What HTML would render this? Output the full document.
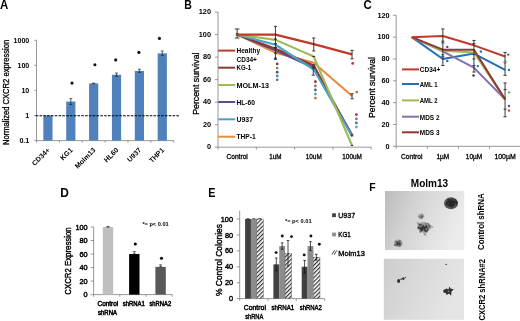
<!DOCTYPE html>
<html><head><meta charset="utf-8"><style>
html,body{margin:0;padding:0;background:#fff;}
svg{display:block;filter:blur(0.3px);}
text{font-family:"Liberation Sans", sans-serif;}
</style></head><body>
<svg width="520" height="321" viewBox="0 0 520 321" font-family='"Liberation Sans", sans-serif'>
<rect width="520" height="321" fill="#fff"/>
<text x="0.00" y="8.60" font-size="12" font-weight="bold" text-anchor="start" fill="#000" textLength="8.3" lengthAdjust="spacingAndGlyphs" >A</text>
<line x1="36.50" y1="40.30" x2="36.50" y2="140.60" stroke="#7f7f7f" stroke-width="0.8" />
<line x1="34.30" y1="40.30" x2="36.50" y2="40.30" stroke="#7f7f7f" stroke-width="0.8" />
<line x1="34.30" y1="65.30" x2="36.50" y2="65.30" stroke="#7f7f7f" stroke-width="0.8" />
<line x1="34.30" y1="90.40" x2="36.50" y2="90.40" stroke="#7f7f7f" stroke-width="0.8" />
<line x1="34.30" y1="115.50" x2="36.50" y2="115.50" stroke="#7f7f7f" stroke-width="0.8" />
<line x1="34.30" y1="140.60" x2="36.50" y2="140.60" stroke="#7f7f7f" stroke-width="0.8" />
<text x="29.30" y="42.60" font-size="7.1" font-weight="bold" text-anchor="end" fill="#000" >1000</text>
<text x="29.30" y="67.60" font-size="7.1" font-weight="bold" text-anchor="end" fill="#000" >100</text>
<text x="29.30" y="92.70" font-size="7.1" font-weight="bold" text-anchor="end" fill="#000" >10</text>
<text x="29.30" y="117.80" font-size="7.1" font-weight="bold" text-anchor="end" fill="#000" >1</text>
<text x="29.30" y="142.90" font-size="7.1" font-weight="bold" text-anchor="end" fill="#000" >0.1</text>
<text x="9.20" y="92.40" font-size="8.2" font-weight="normal" text-anchor="middle" fill="#000" stroke="#000" stroke-width="0.3" textLength="105.2" lengthAdjust="spacingAndGlyphs" transform="rotate(-90 9.20 92.40)" >Normalized CXCR2 expression</text>
<line x1="36.50" y1="140.60" x2="173.70" y2="140.60" stroke="#7f7f7f" stroke-width="0.8" />
<line x1="36.50" y1="140.60" x2="36.50" y2="142.60" stroke="#7f7f7f" stroke-width="0.8" />
<line x1="59.37" y1="140.60" x2="59.37" y2="142.60" stroke="#7f7f7f" stroke-width="0.8" />
<line x1="82.23" y1="140.60" x2="82.23" y2="142.60" stroke="#7f7f7f" stroke-width="0.8" />
<line x1="105.10" y1="140.60" x2="105.10" y2="142.60" stroke="#7f7f7f" stroke-width="0.8" />
<line x1="127.97" y1="140.60" x2="127.97" y2="142.60" stroke="#7f7f7f" stroke-width="0.8" />
<line x1="150.83" y1="140.60" x2="150.83" y2="142.60" stroke="#7f7f7f" stroke-width="0.8" />
<line x1="173.70" y1="140.60" x2="173.70" y2="142.60" stroke="#7f7f7f" stroke-width="0.8" />
<rect x="43.33" y="115.50" width="9.20" height="25.10" fill="#4F81BD" />
<rect x="66.20" y="101.54" width="9.20" height="39.06" fill="#4F81BD" />
<line x1="70.80" y1="98.63" x2="70.80" y2="104.59" stroke="#222" stroke-width="0.7" />
<line x1="69.30" y1="98.63" x2="72.30" y2="98.63" stroke="#222" stroke-width="0.7" />
<line x1="69.30" y1="104.59" x2="72.30" y2="104.59" stroke="#222" stroke-width="0.7" />
<rect x="89.07" y="83.40" width="9.20" height="57.20" fill="#4F81BD" />
<line x1="93.67" y1="83.12" x2="93.67" y2="83.64" stroke="#222" stroke-width="0.7" />
<line x1="92.17" y1="83.12" x2="95.17" y2="83.12" stroke="#222" stroke-width="0.7" />
<line x1="92.17" y1="83.64" x2="95.17" y2="83.64" stroke="#222" stroke-width="0.7" />
<rect x="111.93" y="74.76" width="9.20" height="65.84" fill="#4F81BD" />
<line x1="116.53" y1="73.08" x2="116.53" y2="76.32" stroke="#222" stroke-width="0.7" />
<line x1="115.03" y1="73.08" x2="118.03" y2="73.08" stroke="#222" stroke-width="0.7" />
<line x1="115.03" y1="76.32" x2="118.03" y2="76.32" stroke="#222" stroke-width="0.7" />
<rect x="134.80" y="70.87" width="9.20" height="69.73" fill="#4F81BD" />
<line x1="139.40" y1="69.19" x2="139.40" y2="72.43" stroke="#222" stroke-width="0.7" />
<line x1="137.90" y1="69.19" x2="140.90" y2="69.19" stroke="#222" stroke-width="0.7" />
<line x1="137.90" y1="72.43" x2="140.90" y2="72.43" stroke="#222" stroke-width="0.7" />
<rect x="157.67" y="53.32" width="9.20" height="87.28" fill="#4F81BD" />
<line x1="162.27" y1="51.04" x2="162.27" y2="55.58" stroke="#222" stroke-width="0.7" />
<line x1="160.77" y1="51.04" x2="163.77" y2="51.04" stroke="#222" stroke-width="0.7" />
<line x1="160.77" y1="55.58" x2="163.77" y2="55.58" stroke="#222" stroke-width="0.7" />
<circle cx="72.00" cy="83.10" r="1.55" fill="#111"/>
<circle cx="94.90" cy="64.80" r="1.55" fill="#111"/>
<circle cx="115.70" cy="59.90" r="1.55" fill="#111"/>
<circle cx="138.90" cy="52.40" r="1.55" fill="#111"/>
<circle cx="159.40" cy="38.40" r="1.55" fill="#111"/>
<line x1="35.70" y1="115.80" x2="179.30" y2="115.80" stroke="#000" stroke-width="1.1" stroke-dasharray="2.6 1.2"/>
<text x="50.33" y="150.60" font-size="7.0" font-weight="bold" text-anchor="end" fill="#000" transform="rotate(-45 50.33 150.60)" >CD34+</text>
<text x="73.20" y="150.60" font-size="7.0" font-weight="bold" text-anchor="end" fill="#000" transform="rotate(-45 73.20 150.60)" >KG1</text>
<text x="96.07" y="150.60" font-size="7.0" font-weight="bold" text-anchor="end" fill="#000" transform="rotate(-45 96.07 150.60)" >Molm13</text>
<text x="118.93" y="150.60" font-size="7.0" font-weight="bold" text-anchor="end" fill="#000" transform="rotate(-45 118.93 150.60)" >HL60</text>
<text x="141.80" y="150.60" font-size="7.0" font-weight="bold" text-anchor="end" fill="#000" transform="rotate(-45 141.80 150.60)" >U937</text>
<text x="164.67" y="150.60" font-size="7.0" font-weight="bold" text-anchor="end" fill="#000" transform="rotate(-45 164.67 150.60)" >THP1</text>
<text x="184.30" y="8.60" font-size="12" font-weight="bold" text-anchor="start" fill="#000" textLength="7.6" lengthAdjust="spacingAndGlyphs" >B</text>
<line x1="218.00" y1="12.10" x2="218.00" y2="147.20" stroke="#7f7f7f" stroke-width="0.8" />
<line x1="214.80" y1="147.20" x2="218.00" y2="147.20" stroke="#7f7f7f" stroke-width="0.8" />
<text x="211.00" y="149.40" font-size="7.3" font-weight="bold" text-anchor="end" fill="#000" >0</text>
<line x1="214.80" y1="124.68" x2="218.00" y2="124.68" stroke="#7f7f7f" stroke-width="0.8" />
<text x="211.00" y="126.88" font-size="7.3" font-weight="bold" text-anchor="end" fill="#000" >20</text>
<line x1="214.80" y1="102.17" x2="218.00" y2="102.17" stroke="#7f7f7f" stroke-width="0.8" />
<text x="211.00" y="104.37" font-size="7.3" font-weight="bold" text-anchor="end" fill="#000" >40</text>
<line x1="214.80" y1="79.65" x2="218.00" y2="79.65" stroke="#7f7f7f" stroke-width="0.8" />
<text x="211.00" y="81.85" font-size="7.3" font-weight="bold" text-anchor="end" fill="#000" >60</text>
<line x1="214.80" y1="57.14" x2="218.00" y2="57.14" stroke="#7f7f7f" stroke-width="0.8" />
<text x="211.00" y="59.34" font-size="7.3" font-weight="bold" text-anchor="end" fill="#000" >80</text>
<line x1="214.80" y1="34.62" x2="218.00" y2="34.62" stroke="#7f7f7f" stroke-width="0.8" />
<text x="211.00" y="36.82" font-size="7.3" font-weight="bold" text-anchor="end" fill="#000" >100</text>
<line x1="214.80" y1="12.10" x2="218.00" y2="12.10" stroke="#7f7f7f" stroke-width="0.8" />
<text x="211.00" y="14.30" font-size="7.3" font-weight="bold" text-anchor="end" fill="#000" >120</text>
<text x="199.20" y="83.65" font-size="9.0" font-weight="normal" text-anchor="middle" fill="#000" stroke="#000" stroke-width="0.3" textLength="62.3" lengthAdjust="spacingAndGlyphs" transform="rotate(-90 199.20 83.65)" >Percent survival</text>
<line x1="218.00" y1="147.20" x2="371.20" y2="147.20" stroke="#7f7f7f" stroke-width="0.8" />
<line x1="218.00" y1="147.20" x2="218.00" y2="149.70" stroke="#7f7f7f" stroke-width="0.8" />
<line x1="256.30" y1="147.20" x2="256.30" y2="149.70" stroke="#7f7f7f" stroke-width="0.8" />
<line x1="294.60" y1="147.20" x2="294.60" y2="149.70" stroke="#7f7f7f" stroke-width="0.8" />
<line x1="332.90" y1="147.20" x2="332.90" y2="149.70" stroke="#7f7f7f" stroke-width="0.8" />
<line x1="371.20" y1="147.20" x2="371.20" y2="149.70" stroke="#7f7f7f" stroke-width="0.8" />
<text x="237.15" y="158.70" font-size="7.0" font-weight="normal" text-anchor="middle" fill="#000" stroke="#000" stroke-width="0.3" textLength="21.3" lengthAdjust="spacingAndGlyphs" >Control</text>
<text x="275.45" y="158.70" font-size="7.0" font-weight="normal" text-anchor="middle" fill="#000" stroke="#000" stroke-width="0.3" textLength="12.3" lengthAdjust="spacingAndGlyphs" >1uM</text>
<text x="313.75" y="158.70" font-size="7.0" font-weight="normal" text-anchor="middle" fill="#000" stroke="#000" stroke-width="0.3" textLength="16.0" lengthAdjust="spacingAndGlyphs" >10uM</text>
<text x="352.05" y="158.70" font-size="7.0" font-weight="normal" text-anchor="middle" fill="#000" stroke="#000" stroke-width="0.3" textLength="19.6" lengthAdjust="spacingAndGlyphs" >100uM</text>
<polyline points="237.15,34.62 275.45,52.63 313.75,62.77 352.05,95.98" fill="none" stroke="#E8893C" stroke-width="2.1" stroke-linejoin="round"/>
<polyline points="237.15,34.62 275.45,50.38 313.75,67.83 352.05,134.82" fill="none" stroke="#5F4A8B" stroke-width="2.1" stroke-linejoin="round"/>
<polyline points="237.15,34.62 275.45,48.69 313.75,65.58 352.05,135.94" fill="none" stroke="#8B3A3A" stroke-width="2.1" stroke-linejoin="round"/>
<polyline points="237.15,34.62 275.45,44.75 313.75,69.52 352.05,135.94" fill="none" stroke="#4AA3C2" stroke-width="2.1" stroke-linejoin="round"/>
<polyline points="237.15,34.62 275.45,39.91 313.75,56.57 352.05,145.51" fill="none" stroke="#9BBB59" stroke-width="2.1" stroke-linejoin="round"/>
<polyline points="237.15,34.62 275.45,34.62 313.75,44.19 352.05,54.32" fill="none" stroke="#C0392B" stroke-width="2.3" stroke-linejoin="round"/>
<line x1="237.15" y1="28.99" x2="237.15" y2="38.00" stroke="#262626" stroke-width="0.9" />
<line x1="234.85" y1="28.99" x2="239.45" y2="28.99" stroke="#262626" stroke-width="0.9" />
<line x1="234.85" y1="38.00" x2="239.45" y2="38.00" stroke="#262626" stroke-width="0.9" />
<rect x="235.85" y="32.82" width="2.60" height="3.20" fill="#7a4a3a" />
<line x1="275.45" y1="26.40" x2="275.45" y2="59.39" stroke="#262626" stroke-width="0.9" />
<line x1="273.85" y1="26.40" x2="277.05" y2="26.40" stroke="#262626" stroke-width="0.9" />
<line x1="273.85" y1="59.39" x2="277.05" y2="59.39" stroke="#262626" stroke-width="0.9" />
<line x1="274.05" y1="39.12" x2="276.85" y2="39.12" stroke="#262626" stroke-width="1.1" />
<line x1="274.05" y1="43.63" x2="276.85" y2="43.63" stroke="#262626" stroke-width="1.1" />
<line x1="274.05" y1="47.57" x2="276.85" y2="47.57" stroke="#262626" stroke-width="1.1" />
<line x1="274.05" y1="53.20" x2="276.85" y2="53.20" stroke="#262626" stroke-width="1.1" />
<line x1="274.05" y1="58.26" x2="276.85" y2="58.26" stroke="#262626" stroke-width="1.1" />
<line x1="313.75" y1="38.00" x2="313.75" y2="50.94" stroke="#262626" stroke-width="0.9" />
<line x1="312.15" y1="38.00" x2="315.35" y2="38.00" stroke="#262626" stroke-width="0.9" />
<line x1="312.15" y1="50.94" x2="315.35" y2="50.94" stroke="#262626" stroke-width="0.9" />
<line x1="313.25" y1="67.83" x2="313.25" y2="75.15" stroke="#262626" stroke-width="0.9" />
<line x1="311.65" y1="67.83" x2="314.85" y2="67.83" stroke="#262626" stroke-width="0.9" />
<line x1="311.65" y1="75.15" x2="314.85" y2="75.15" stroke="#262626" stroke-width="0.9" />
<line x1="312.35" y1="56.57" x2="315.15" y2="56.57" stroke="#262626" stroke-width="1.0" />
<line x1="312.35" y1="65.02" x2="315.15" y2="65.02" stroke="#262626" stroke-width="1.0" />
<line x1="312.35" y1="67.27" x2="315.15" y2="67.27" stroke="#262626" stroke-width="1.0" />
<line x1="352.05" y1="50.38" x2="352.05" y2="58.82" stroke="#262626" stroke-width="0.9" />
<line x1="350.45" y1="50.38" x2="353.65" y2="50.38" stroke="#262626" stroke-width="0.9" />
<line x1="350.45" y1="58.82" x2="353.65" y2="58.82" stroke="#262626" stroke-width="0.9" />
<line x1="352.05" y1="93.72" x2="352.05" y2="98.79" stroke="#262626" stroke-width="0.9" />
<line x1="350.45" y1="93.72" x2="353.65" y2="93.72" stroke="#262626" stroke-width="0.9" />
<line x1="350.45" y1="98.79" x2="353.65" y2="98.79" stroke="#262626" stroke-width="0.9" />
<line x1="350.75" y1="134.82" x2="353.35" y2="134.82" stroke="#262626" stroke-width="0.9" />
<line x1="350.75" y1="135.94" x2="353.35" y2="135.94" stroke="#262626" stroke-width="0.9" />
<line x1="350.75" y1="145.51" x2="353.35" y2="145.51" stroke="#262626" stroke-width="0.9" />
<circle cx="277.20" cy="63.90" r="1.4" fill="#8B3A3A"/>
<circle cx="277.20" cy="68.10" r="1.4" fill="#6F9A4A"/>
<circle cx="277.20" cy="72.20" r="1.4" fill="#5F4A8B"/>
<circle cx="277.20" cy="76.00" r="1.4" fill="#3B9ABA"/>
<circle cx="277.20" cy="79.80" r="1.4" fill="#9A6A5A"/>
<circle cx="315.40" cy="81.70" r="1.4" fill="#7A3A2A"/>
<circle cx="315.40" cy="86.00" r="1.4" fill="#8A7A6A"/>
<circle cx="315.40" cy="89.90" r="1.4" fill="#4A5A7A"/>
<circle cx="315.40" cy="94.10" r="1.4" fill="#4A9AC8"/>
<circle cx="315.40" cy="98.10" r="1.4" fill="#9A7A5A"/>
<circle cx="352.70" cy="63.40" r="1.4" fill="#C0392B"/>
<circle cx="356.80" cy="92.10" r="1.4" fill="#C07A40"/>
<circle cx="356.40" cy="114.60" r="1.4" fill="#8B3A3A"/>
<circle cx="356.40" cy="118.80" r="1.4" fill="#8A6A6A"/>
<circle cx="356.40" cy="122.90" r="1.4" fill="#3B7A9A"/>
<circle cx="356.40" cy="127.00" r="1.4" fill="#5AAAD0"/>
<line x1="218.20" y1="50.60" x2="235.20" y2="50.60" stroke="#C0392B" stroke-width="2.0" />
<text x="236.50" y="52.80" font-size="7.3" font-weight="bold" text-anchor="start" fill="#000" textLength="23.5" lengthAdjust="spacingAndGlyphs" >Healthy</text>
<line x1="218.20" y1="67.70" x2="235.20" y2="67.70" stroke="#8B3A3A" stroke-width="2.0" />
<text x="236.50" y="70.20" font-size="7.3" font-weight="bold" text-anchor="start" fill="#000" textLength="14.7" lengthAdjust="spacingAndGlyphs" >KG-1</text>
<line x1="218.20" y1="85.00" x2="235.20" y2="85.00" stroke="#9BBB59" stroke-width="2.0" />
<text x="236.50" y="87.60" font-size="7.3" font-weight="bold" text-anchor="start" fill="#000" textLength="32.4" lengthAdjust="spacingAndGlyphs" >MOLM-13</text>
<line x1="218.20" y1="102.00" x2="235.20" y2="102.00" stroke="#5F4A8B" stroke-width="2.0" />
<text x="236.50" y="104.60" font-size="7.3" font-weight="bold" text-anchor="start" fill="#000" textLength="18.5" lengthAdjust="spacingAndGlyphs" >HL-60</text>
<line x1="218.20" y1="119.30" x2="235.20" y2="119.30" stroke="#4AA3C2" stroke-width="2.0" />
<text x="236.50" y="121.80" font-size="7.3" font-weight="bold" text-anchor="start" fill="#000" textLength="16.5" lengthAdjust="spacingAndGlyphs" >U937</text>
<line x1="218.20" y1="136.70" x2="235.20" y2="136.70" stroke="#E8893C" stroke-width="2.0" />
<text x="236.50" y="139.20" font-size="7.3" font-weight="bold" text-anchor="start" fill="#000" textLength="19.1" lengthAdjust="spacingAndGlyphs" >THP-1</text>
<text x="236.50" y="62.40" font-size="7.3" font-weight="bold" text-anchor="start" fill="#000" textLength="20.4" lengthAdjust="spacingAndGlyphs" >CD34+</text>
<text x="363.50" y="8.60" font-size="12" font-weight="bold" text-anchor="start" fill="#000" textLength="8.2" lengthAdjust="spacingAndGlyphs" >C</text>
<line x1="396.20" y1="15.30" x2="396.20" y2="146.30" stroke="#7f7f7f" stroke-width="0.8" />
<line x1="393.00" y1="146.30" x2="396.20" y2="146.30" stroke="#7f7f7f" stroke-width="0.8" />
<text x="389.60" y="148.50" font-size="7.3" font-weight="bold" text-anchor="end" fill="#000" >0</text>
<line x1="393.00" y1="124.47" x2="396.20" y2="124.47" stroke="#7f7f7f" stroke-width="0.8" />
<text x="389.60" y="126.67" font-size="7.3" font-weight="bold" text-anchor="end" fill="#000" >20</text>
<line x1="393.00" y1="102.63" x2="396.20" y2="102.63" stroke="#7f7f7f" stroke-width="0.8" />
<text x="389.60" y="104.83" font-size="7.3" font-weight="bold" text-anchor="end" fill="#000" >40</text>
<line x1="393.00" y1="80.80" x2="396.20" y2="80.80" stroke="#7f7f7f" stroke-width="0.8" />
<text x="389.60" y="83.00" font-size="7.3" font-weight="bold" text-anchor="end" fill="#000" >60</text>
<line x1="393.00" y1="58.96" x2="396.20" y2="58.96" stroke="#7f7f7f" stroke-width="0.8" />
<text x="389.60" y="61.16" font-size="7.3" font-weight="bold" text-anchor="end" fill="#000" >80</text>
<line x1="393.00" y1="37.13" x2="396.20" y2="37.13" stroke="#7f7f7f" stroke-width="0.8" />
<text x="389.60" y="39.33" font-size="7.3" font-weight="bold" text-anchor="end" fill="#000" >100</text>
<line x1="393.00" y1="15.30" x2="396.20" y2="15.30" stroke="#7f7f7f" stroke-width="0.8" />
<text x="389.60" y="17.50" font-size="7.3" font-weight="bold" text-anchor="end" fill="#000" >120</text>
<text x="375.40" y="87.45" font-size="9.0" font-weight="normal" text-anchor="middle" fill="#000" stroke="#000" stroke-width="0.3" textLength="60.9" lengthAdjust="spacingAndGlyphs" transform="rotate(-90 375.40 87.45)" >Percent survival</text>
<line x1="396.20" y1="146.30" x2="520.60" y2="146.30" stroke="#7f7f7f" stroke-width="0.8" />
<line x1="396.20" y1="146.30" x2="396.20" y2="148.80" stroke="#7f7f7f" stroke-width="0.8" />
<line x1="427.30" y1="146.30" x2="427.30" y2="148.80" stroke="#7f7f7f" stroke-width="0.8" />
<line x1="458.40" y1="146.30" x2="458.40" y2="148.80" stroke="#7f7f7f" stroke-width="0.8" />
<line x1="489.50" y1="146.30" x2="489.50" y2="148.80" stroke="#7f7f7f" stroke-width="0.8" />
<line x1="520.60" y1="146.30" x2="520.60" y2="148.80" stroke="#7f7f7f" stroke-width="0.8" />
<text x="411.75" y="158.50" font-size="7.0" font-weight="normal" text-anchor="middle" fill="#000" stroke="#000" stroke-width="0.3" textLength="21.3" lengthAdjust="spacingAndGlyphs" >Control</text>
<text x="442.85" y="158.50" font-size="7.0" font-weight="normal" text-anchor="middle" fill="#000" stroke="#000" stroke-width="0.3" textLength="12.7" lengthAdjust="spacingAndGlyphs" >1µM</text>
<text x="473.95" y="158.50" font-size="7.0" font-weight="normal" text-anchor="middle" fill="#000" stroke="#000" stroke-width="0.3" textLength="16.3" lengthAdjust="spacingAndGlyphs" >10µM</text>
<text x="505.05" y="158.50" font-size="7.0" font-weight="normal" text-anchor="middle" fill="#000" stroke="#000" stroke-width="0.3" textLength="21.2" lengthAdjust="spacingAndGlyphs" >100µM</text>
<polyline points="411.75,37.13 442.85,58.96 473.95,53.51 505.05,69.88" fill="none" stroke="#2170B8" stroke-width="2.0" stroke-linejoin="round"/>
<polyline points="411.75,37.13 442.85,51.32 473.95,67.70 505.05,99.36" fill="none" stroke="#8A6FB0" stroke-width="2.0" stroke-linejoin="round"/>
<polyline points="411.75,37.13 442.85,50.78 473.95,52.41 505.05,99.36" fill="none" stroke="#9BBB59" stroke-width="2.0" stroke-linejoin="round"/>
<polyline points="411.75,37.13 442.85,49.68 473.95,49.68 505.05,99.36" fill="none" stroke="#943634" stroke-width="2.0" stroke-linejoin="round"/>
<polyline points="411.75,37.13 442.85,36.04 473.95,45.32 505.05,56.45" fill="none" stroke="#C0392B" stroke-width="2.0" stroke-linejoin="round"/>
<line x1="442.85" y1="28.94" x2="442.85" y2="65.51" stroke="#262626" stroke-width="0.9" />
<line x1="441.25" y1="28.94" x2="444.45" y2="28.94" stroke="#262626" stroke-width="0.9" />
<line x1="441.25" y1="65.51" x2="444.45" y2="65.51" stroke="#262626" stroke-width="0.9" />
<line x1="441.35" y1="41.17" x2="444.35" y2="41.17" stroke="#262626" stroke-width="0.9" />
<line x1="441.35" y1="42.92" x2="444.35" y2="42.92" stroke="#262626" stroke-width="0.9" />
<line x1="441.35" y1="54.92" x2="444.35" y2="54.92" stroke="#262626" stroke-width="0.9" />
<line x1="441.35" y1="56.78" x2="444.35" y2="56.78" stroke="#262626" stroke-width="0.9" />
<line x1="473.95" y1="40.41" x2="473.95" y2="72.06" stroke="#262626" stroke-width="0.9" />
<line x1="472.35" y1="40.41" x2="475.55" y2="40.41" stroke="#262626" stroke-width="0.9" />
<line x1="472.35" y1="72.06" x2="475.55" y2="72.06" stroke="#262626" stroke-width="0.9" />
<line x1="472.45" y1="43.68" x2="475.45" y2="43.68" stroke="#262626" stroke-width="0.9" />
<line x1="472.45" y1="54.60" x2="475.45" y2="54.60" stroke="#262626" stroke-width="0.9" />
<line x1="472.45" y1="58.96" x2="475.45" y2="58.96" stroke="#262626" stroke-width="0.9" />
<line x1="472.45" y1="65.51" x2="475.45" y2="65.51" stroke="#262626" stroke-width="0.9" />
<line x1="505.05" y1="52.41" x2="505.05" y2="75.34" stroke="#262626" stroke-width="0.9" />
<line x1="503.45" y1="52.41" x2="506.65" y2="52.41" stroke="#262626" stroke-width="0.9" />
<line x1="503.45" y1="75.34" x2="506.65" y2="75.34" stroke="#262626" stroke-width="0.9" />
<circle cx="505.05" cy="62.24" r="1.3" fill="none" stroke="#444" stroke-width="0.6"/>
<line x1="505.05" y1="82.98" x2="505.05" y2="116.82" stroke="#262626" stroke-width="0.9" />
<line x1="503.45" y1="82.98" x2="506.65" y2="82.98" stroke="#262626" stroke-width="0.9" />
<line x1="503.45" y1="116.82" x2="506.65" y2="116.82" stroke="#262626" stroke-width="0.9" />
<line x1="503.55" y1="89.53" x2="506.55" y2="89.53" stroke="#262626" stroke-width="0.9" />
<line x1="503.55" y1="109.18" x2="506.55" y2="109.18" stroke="#262626" stroke-width="0.9" />
<circle cx="447.30" cy="46.90" r="1.2" fill="#4a4a9a"/>
<circle cx="447.30" cy="61.00" r="1.2" fill="#2170B8"/>
<circle cx="480.90" cy="51.50" r="1.2" fill="#2170B8"/>
<circle cx="477.80" cy="66.10" r="1.2" fill="#2170B8"/>
<circle cx="473.50" cy="75.50" r="1.2" fill="#333"/>
<circle cx="508.20" cy="54.60" r="1.2" fill="#C0392B"/>
<circle cx="509.00" cy="70.00" r="1.2" fill="#2170B8"/>
<circle cx="509.00" cy="92.40" r="1.2" fill="#6aaa7a"/>
<circle cx="509.00" cy="106.00" r="1.2" fill="#6a4a8a"/>
<circle cx="509.00" cy="110.60" r="1.2" fill="#C0392B"/>
<line x1="402.00" y1="69.40" x2="419.00" y2="69.40" stroke="#C0392B" stroke-width="2.0" />
<text x="419.80" y="72.40" font-size="7.6" font-weight="bold" text-anchor="start" fill="#000" textLength="20.4" lengthAdjust="spacingAndGlyphs" >CD34+</text>
<line x1="402.00" y1="84.00" x2="419.00" y2="84.00" stroke="#2170B8" stroke-width="2.0" />
<text x="419.80" y="87.00" font-size="7.6" font-weight="bold" text-anchor="start" fill="#000" textLength="17.8" lengthAdjust="spacingAndGlyphs" >AML 1</text>
<line x1="402.00" y1="100.40" x2="419.00" y2="100.40" stroke="#9BBB59" stroke-width="2.0" />
<text x="419.80" y="103.40" font-size="7.6" font-weight="bold" text-anchor="start" fill="#000" textLength="17.8" lengthAdjust="spacingAndGlyphs" >AML 2</text>
<line x1="402.00" y1="116.70" x2="419.00" y2="116.70" stroke="#8A6FB0" stroke-width="2.0" />
<text x="419.80" y="119.70" font-size="7.6" font-weight="bold" text-anchor="start" fill="#000" textLength="19.7" lengthAdjust="spacingAndGlyphs" >MDS 2</text>
<line x1="402.00" y1="132.30" x2="419.00" y2="132.30" stroke="#943634" stroke-width="2.0" />
<text x="419.80" y="135.30" font-size="7.6" font-weight="bold" text-anchor="start" fill="#000" textLength="19.7" lengthAdjust="spacingAndGlyphs" >MDS 3</text>
<text x="60.20" y="196.90" font-size="12.2" font-weight="bold" text-anchor="start" fill="#000" textLength="8.6" lengthAdjust="spacingAndGlyphs" >D</text>
<line x1="93.60" y1="227.00" x2="93.60" y2="294.60" stroke="#7f7f7f" stroke-width="0.8" />
<line x1="90.60" y1="294.60" x2="93.60" y2="294.60" stroke="#7f7f7f" stroke-width="0.8" />
<text x="87.60" y="297.20" font-size="7.3" font-weight="normal" text-anchor="end" fill="#000" stroke="#000" stroke-width="0.42" >0</text>
<line x1="90.60" y1="281.08" x2="93.60" y2="281.08" stroke="#7f7f7f" stroke-width="0.8" />
<text x="87.60" y="283.68" font-size="7.3" font-weight="normal" text-anchor="end" fill="#000" stroke="#000" stroke-width="0.42" >20</text>
<line x1="90.60" y1="267.56" x2="93.60" y2="267.56" stroke="#7f7f7f" stroke-width="0.8" />
<text x="87.60" y="270.16" font-size="7.3" font-weight="normal" text-anchor="end" fill="#000" stroke="#000" stroke-width="0.42" >40</text>
<line x1="90.60" y1="254.04" x2="93.60" y2="254.04" stroke="#7f7f7f" stroke-width="0.8" />
<text x="87.60" y="256.64" font-size="7.3" font-weight="normal" text-anchor="end" fill="#000" stroke="#000" stroke-width="0.42" >60</text>
<line x1="90.60" y1="240.52" x2="93.60" y2="240.52" stroke="#7f7f7f" stroke-width="0.8" />
<text x="87.60" y="243.12" font-size="7.3" font-weight="normal" text-anchor="end" fill="#000" stroke="#000" stroke-width="0.42" >80</text>
<line x1="90.60" y1="227.00" x2="93.60" y2="227.00" stroke="#7f7f7f" stroke-width="0.8" />
<text x="87.60" y="229.60" font-size="7.3" font-weight="normal" text-anchor="end" fill="#000" stroke="#000" stroke-width="0.42" >100</text>
<text x="71.30" y="261.00" font-size="9.0" font-weight="normal" text-anchor="middle" fill="#000" stroke="#000" stroke-width="0.4" textLength="67.3" lengthAdjust="spacingAndGlyphs" transform="rotate(-90 71.30 261.00)" >CXCR2 Expression</text>
<line x1="93.60" y1="294.60" x2="172.20" y2="294.60" stroke="#7f7f7f" stroke-width="0.8" />
<line x1="93.60" y1="294.60" x2="93.60" y2="296.80" stroke="#7f7f7f" stroke-width="0.8" />
<line x1="119.80" y1="294.60" x2="119.80" y2="296.80" stroke="#7f7f7f" stroke-width="0.8" />
<line x1="146.00" y1="294.60" x2="146.00" y2="296.80" stroke="#7f7f7f" stroke-width="0.8" />
<line x1="172.20" y1="294.60" x2="172.20" y2="296.80" stroke="#7f7f7f" stroke-width="0.8" />
<rect x="102.80" y="227.00" width="10.40" height="67.60" fill="#BFBFBF" />
<line x1="108.00" y1="226.66" x2="108.00" y2="227.00" stroke="#222" stroke-width="0.7" />
<line x1="106.50" y1="226.66" x2="109.50" y2="226.66" stroke="#222" stroke-width="0.7" />
<line x1="106.50" y1="227.00" x2="109.50" y2="227.00" stroke="#222" stroke-width="0.7" />
<rect x="129.10" y="254.04" width="10.40" height="40.56" fill="#000" />
<line x1="134.30" y1="251.67" x2="134.30" y2="254.04" stroke="#222" stroke-width="0.7" />
<line x1="132.80" y1="251.67" x2="135.80" y2="251.67" stroke="#222" stroke-width="0.7" />
<line x1="132.80" y1="254.04" x2="135.80" y2="254.04" stroke="#222" stroke-width="0.7" />
<rect x="155.40" y="266.88" width="10.40" height="27.72" fill="#595959" />
<line x1="160.60" y1="264.86" x2="160.60" y2="266.88" stroke="#222" stroke-width="0.7" />
<line x1="159.10" y1="264.86" x2="162.10" y2="264.86" stroke="#222" stroke-width="0.7" />
<line x1="159.10" y1="266.88" x2="162.10" y2="266.88" stroke="#222" stroke-width="0.7" />
<circle cx="135.30" cy="244.00" r="1.55" fill="#000"/>
<circle cx="161.50" cy="258.20" r="1.55" fill="#000"/>
<text x="142.40" y="226.20" font-size="5.1" font-weight="bold" text-anchor="start" fill="#000" textLength="26.3" lengthAdjust="spacingAndGlyphs" >*= p&lt; 0.01</text>
<text x="107.90" y="306.20" font-size="6.8" font-weight="normal" text-anchor="middle" fill="#000" stroke="#000" stroke-width="0.5" textLength="20.7" lengthAdjust="spacingAndGlyphs" >Control</text>
<text x="107.50" y="314.60" font-size="6.8" font-weight="normal" text-anchor="middle" fill="#000" stroke="#000" stroke-width="0.5" textLength="19.0" lengthAdjust="spacingAndGlyphs" >shRNA</text>
<text x="133.70" y="306.20" font-size="6.8" font-weight="normal" text-anchor="middle" fill="#000" stroke="#000" stroke-width="0.5" textLength="22.0" lengthAdjust="spacingAndGlyphs" >shRNA1</text>
<text x="160.30" y="306.20" font-size="6.8" font-weight="normal" text-anchor="middle" fill="#000" stroke="#000" stroke-width="0.5" textLength="21.8" lengthAdjust="spacingAndGlyphs" >shRNA2</text>
<text x="208.30" y="196.90" font-size="12.2" font-weight="bold" text-anchor="start" fill="#000" textLength="7.2" lengthAdjust="spacingAndGlyphs" >E</text>
<line x1="239.70" y1="210.80" x2="239.70" y2="298.60" stroke="#7f7f7f" stroke-width="0.8" />
<line x1="236.70" y1="298.60" x2="239.70" y2="298.60" stroke="#7f7f7f" stroke-width="0.8" />
<text x="233.00" y="301.20" font-size="7.3" font-weight="normal" text-anchor="end" fill="#000" stroke="#000" stroke-width="0.42" >0</text>
<line x1="236.70" y1="282.68" x2="239.70" y2="282.68" stroke="#7f7f7f" stroke-width="0.8" />
<text x="233.00" y="285.28" font-size="7.3" font-weight="normal" text-anchor="end" fill="#000" stroke="#000" stroke-width="0.42" >20</text>
<line x1="236.70" y1="266.76" x2="239.70" y2="266.76" stroke="#7f7f7f" stroke-width="0.8" />
<text x="233.00" y="269.36" font-size="7.3" font-weight="normal" text-anchor="end" fill="#000" stroke="#000" stroke-width="0.42" >40</text>
<line x1="236.70" y1="250.84" x2="239.70" y2="250.84" stroke="#7f7f7f" stroke-width="0.8" />
<text x="233.00" y="253.44" font-size="7.3" font-weight="normal" text-anchor="end" fill="#000" stroke="#000" stroke-width="0.42" >60</text>
<line x1="236.70" y1="234.92" x2="239.70" y2="234.92" stroke="#7f7f7f" stroke-width="0.8" />
<text x="233.00" y="237.52" font-size="7.3" font-weight="normal" text-anchor="end" fill="#000" stroke="#000" stroke-width="0.42" >80</text>
<line x1="236.70" y1="219.00" x2="239.70" y2="219.00" stroke="#7f7f7f" stroke-width="0.8" />
<text x="233.00" y="221.60" font-size="7.3" font-weight="normal" text-anchor="end" fill="#000" stroke="#000" stroke-width="0.42" >100</text>
<text x="221.80" y="260.00" font-size="8.8" font-weight="normal" text-anchor="middle" fill="#000" stroke="#000" stroke-width="0.4" textLength="72.0" lengthAdjust="spacingAndGlyphs" transform="rotate(-90 221.80 260.00)" >% Control Colonies</text>
<line x1="239.70" y1="298.60" x2="324.60" y2="298.60" stroke="#7f7f7f" stroke-width="0.8" />
<line x1="239.70" y1="298.60" x2="239.70" y2="300.80" stroke="#7f7f7f" stroke-width="0.8" />
<line x1="268.00" y1="298.60" x2="268.00" y2="300.80" stroke="#7f7f7f" stroke-width="0.8" />
<line x1="296.30" y1="298.60" x2="296.30" y2="300.80" stroke="#7f7f7f" stroke-width="0.8" />
<line x1="324.60" y1="298.60" x2="324.60" y2="300.80" stroke="#7f7f7f" stroke-width="0.8" />
<defs><pattern id="hatch" patternUnits="userSpaceOnUse" width="2.9" height="2.9" patternTransform="rotate(45)"><rect width="2.9" height="2.9" fill="#fff"/><rect width="1.2" height="2.9" fill="#333"/></pattern></defs>
<rect x="245.10" y="219.00" width="5.85" height="79.60" fill="#404040" />
<line x1="246.60" y1="218.70" x2="249.50" y2="218.70" stroke="#222" stroke-width="0.8" />
<rect x="250.95" y="219.00" width="5.85" height="79.60" fill="#8C8C8C" />
<line x1="252.45" y1="218.70" x2="255.35" y2="218.70" stroke="#222" stroke-width="0.8" />
<rect x="256.80" y="219.00" width="6.60" height="79.60" fill="url(#hatch)" stroke="#444" stroke-width="0.35"/>
<line x1="258.30" y1="218.70" x2="261.20" y2="218.70" stroke="#222" stroke-width="0.8" />
<rect x="273.40" y="264.37" width="5.85" height="34.23" fill="#404040" />
<line x1="276.30" y1="258.00" x2="276.30" y2="270.74" stroke="#111" stroke-width="0.75" />
<line x1="275.00" y1="258.00" x2="277.60" y2="258.00" stroke="#111" stroke-width="0.75" />
<line x1="275.00" y1="270.74" x2="277.60" y2="270.74" stroke="#111" stroke-width="0.75" />
<rect x="279.25" y="246.06" width="5.85" height="52.54" fill="#8C8C8C" />
<line x1="282.15" y1="242.88" x2="282.15" y2="249.25" stroke="#111" stroke-width="0.75" />
<line x1="280.85" y1="242.88" x2="283.45" y2="242.88" stroke="#111" stroke-width="0.75" />
<line x1="280.85" y1="249.25" x2="283.45" y2="249.25" stroke="#111" stroke-width="0.75" />
<rect x="285.10" y="253.23" width="6.60" height="45.37" fill="url(#hatch)" stroke="#444" stroke-width="0.35"/>
<line x1="288.00" y1="240.49" x2="288.00" y2="265.96" stroke="#111" stroke-width="0.75" />
<line x1="286.70" y1="240.49" x2="289.30" y2="240.49" stroke="#111" stroke-width="0.75" />
<line x1="286.70" y1="265.96" x2="289.30" y2="265.96" stroke="#111" stroke-width="0.75" />
<rect x="301.70" y="266.76" width="5.85" height="31.84" fill="#404040" />
<line x1="304.60" y1="260.39" x2="304.60" y2="273.13" stroke="#111" stroke-width="0.75" />
<line x1="303.30" y1="260.39" x2="305.90" y2="260.39" stroke="#111" stroke-width="0.75" />
<line x1="303.30" y1="273.13" x2="305.90" y2="273.13" stroke="#111" stroke-width="0.75" />
<rect x="307.55" y="246.06" width="5.85" height="52.54" fill="#8C8C8C" />
<line x1="310.45" y1="241.69" x2="310.45" y2="250.44" stroke="#111" stroke-width="0.75" />
<line x1="309.15" y1="241.69" x2="311.75" y2="241.69" stroke="#111" stroke-width="0.75" />
<line x1="309.15" y1="250.44" x2="311.75" y2="250.44" stroke="#111" stroke-width="0.75" />
<rect x="313.40" y="257.21" width="6.60" height="41.39" fill="url(#hatch)" stroke="#444" stroke-width="0.35"/>
<line x1="316.30" y1="254.34" x2="316.30" y2="260.07" stroke="#111" stroke-width="0.75" />
<line x1="315.00" y1="254.34" x2="317.60" y2="254.34" stroke="#111" stroke-width="0.75" />
<line x1="315.00" y1="260.07" x2="317.60" y2="260.07" stroke="#111" stroke-width="0.75" />
<circle cx="276.10" cy="252.60" r="1.45" fill="#111"/>
<circle cx="282.30" cy="236.00" r="1.45" fill="#111"/>
<circle cx="291.50" cy="236.60" r="1.45" fill="#111"/>
<circle cx="304.20" cy="254.90" r="1.45" fill="#111"/>
<circle cx="310.90" cy="236.00" r="1.45" fill="#111"/>
<circle cx="319.30" cy="244.20" r="1.45" fill="#111"/>
<text x="285.00" y="222.80" font-size="5.1" font-weight="bold" text-anchor="start" fill="#000" textLength="26.6" lengthAdjust="spacingAndGlyphs" >*= p&lt; 0.01</text>
<text x="254.80" y="310.20" font-size="6.8" font-weight="normal" text-anchor="middle" fill="#000" stroke="#000" stroke-width="0.42" textLength="22.3" lengthAdjust="spacingAndGlyphs" >Control</text>
<text x="254.20" y="319.00" font-size="6.8" font-weight="normal" text-anchor="middle" fill="#000" stroke="#000" stroke-width="0.42" textLength="18.1" lengthAdjust="spacingAndGlyphs" >shRNA</text>
<text x="282.80" y="310.20" font-size="6.8" font-weight="normal" text-anchor="middle" fill="#000" stroke="#000" stroke-width="0.42" textLength="22.8" lengthAdjust="spacingAndGlyphs" >shRNA1</text>
<text x="310.80" y="310.20" font-size="6.8" font-weight="normal" text-anchor="middle" fill="#000" stroke="#000" stroke-width="0.42" textLength="22.2" lengthAdjust="spacingAndGlyphs" >shRNA2</text>
<rect x="332.10" y="213.30" width="3.80" height="3.80" fill="#404040" />
<rect x="332.10" y="232.60" width="3.80" height="3.80" fill="#8C8C8C" />
<line x1="332.00" y1="254.60" x2="334.60" y2="250.20" stroke="#333" stroke-width="0.9" />
<line x1="334.20" y1="254.80" x2="336.80" y2="250.40" stroke="#333" stroke-width="0.9" />
<text x="338.30" y="217.80" font-size="7.6" font-weight="normal" text-anchor="start" fill="#000" stroke="#000" stroke-width="0.35" textLength="16.8" lengthAdjust="spacingAndGlyphs" >U937</text>
<text x="338.30" y="236.60" font-size="7.6" font-weight="normal" text-anchor="start" fill="#000" stroke="#000" stroke-width="0.35" textLength="12.5" lengthAdjust="spacingAndGlyphs" >KG1</text>
<text x="338.30" y="255.60" font-size="7.6" font-weight="normal" text-anchor="start" fill="#000" stroke="#000" stroke-width="0.35" textLength="26.6" lengthAdjust="spacingAndGlyphs" >Molm13</text>
<text x="369.20" y="191.00" font-size="11" font-weight="bold" text-anchor="start" fill="#000" textLength="6.4" lengthAdjust="spacingAndGlyphs" >F</text>
<text x="429.50" y="187.00" font-size="10.2" font-weight="bold" text-anchor="middle" fill="#000" textLength="37.4" lengthAdjust="spacingAndGlyphs" >Molm13</text>
<defs>
<linearGradient id="g1" x1="0" y1="0" x2="1" y2="0.3"><stop offset="0" stop-color="#bcbcbc"/><stop offset="0.4" stop-color="#d3d3d3"/><stop offset="1" stop-color="#ebebeb"/></linearGradient>
<linearGradient id="g2" x1="0" y1="0" x2="1" y2="0.3"><stop offset="0" stop-color="#cdcdcd"/><stop offset="0.5" stop-color="#dadada"/><stop offset="1" stop-color="#e5e5e5"/></linearGradient>
<filter id="bl" x="-50%" y="-50%" width="200%" height="200%"><feGaussianBlur stdDeviation="0.65"/></filter>
<filter id="bl2" x="-50%" y="-50%" width="200%" height="200%"><feGaussianBlur stdDeviation="0.45"/></filter>
</defs>
<rect x="385.00" y="191.00" width="79.20" height="59.00" fill="url(#g1)" />
<rect x="383.80" y="258.80" width="80.20" height="61.00" fill="url(#g2)" />
<g filter="url(#bl)">
<ellipse cx="451" cy="203.2" rx="7.0" ry="6.0" fill="#5a5a5a"/>
<circle cx="450.23" cy="204.48" r="1.06" fill="#262626" fill-opacity="0.5"/><circle cx="454.34" cy="204.56" r="0.86" fill="#262626" fill-opacity="0.5"/><circle cx="454.34" cy="204.26" r="0.63" fill="#262626" fill-opacity="0.5"/><circle cx="449.96" cy="203.59" r="0.66" fill="#262626" fill-opacity="0.5"/><circle cx="446.00" cy="205.34" r="0.69" fill="#262626" fill-opacity="0.5"/><circle cx="451.71" cy="206.66" r="1.26" fill="#262626" fill-opacity="0.5"/><circle cx="448.33" cy="202.03" r="1.28" fill="#262626" fill-opacity="0.5"/><circle cx="456.68" cy="204.63" r="0.80" fill="#262626" fill-opacity="0.5"/><circle cx="451.93" cy="204.19" r="0.82" fill="#262626" fill-opacity="0.5"/><circle cx="451.76" cy="201.76" r="1.01" fill="#262626" fill-opacity="0.5"/><circle cx="449.14" cy="201.35" r="0.98" fill="#262626" fill-opacity="0.5"/><circle cx="451.97" cy="203.54" r="0.74" fill="#262626" fill-opacity="0.5"/><circle cx="449.66" cy="200.81" r="0.82" fill="#262626" fill-opacity="0.5"/><circle cx="448.17" cy="201.79" r="0.81" fill="#262626" fill-opacity="0.5"/><circle cx="452.28" cy="199.48" r="0.77" fill="#262626" fill-opacity="0.5"/><circle cx="447.73" cy="201.82" r="1.21" fill="#262626" fill-opacity="0.5"/><circle cx="450.68" cy="201.16" r="1.29" fill="#262626" fill-opacity="0.5"/><circle cx="453.30" cy="204.96" r="1.13" fill="#262626" fill-opacity="0.5"/><circle cx="453.01" cy="205.56" r="0.63" fill="#262626" fill-opacity="0.5"/><circle cx="448.49" cy="199.50" r="1.00" fill="#262626" fill-opacity="0.5"/><circle cx="452.85" cy="201.67" r="1.09" fill="#262626" fill-opacity="0.5"/><circle cx="447.72" cy="201.36" r="0.92" fill="#262626" fill-opacity="0.5"/><circle cx="446.63" cy="203.80" r="0.64" fill="#262626" fill-opacity="0.5"/><circle cx="449.70" cy="199.76" r="1.30" fill="#262626" fill-opacity="0.5"/><circle cx="452.07" cy="201.36" r="0.87" fill="#262626" fill-opacity="0.5"/><circle cx="450.69" cy="202.73" r="0.92" fill="#262626" fill-opacity="0.5"/><circle cx="451.74" cy="204.29" r="0.64" fill="#262626" fill-opacity="0.5"/><circle cx="451.18" cy="201.89" r="0.77" fill="#262626" fill-opacity="0.5"/><circle cx="453.87" cy="204.52" r="0.98" fill="#262626" fill-opacity="0.5"/><circle cx="455.13" cy="200.11" r="1.20" fill="#262626" fill-opacity="0.5"/><circle cx="450.45" cy="205.75" r="0.85" fill="#262626" fill-opacity="0.5"/><circle cx="452.09" cy="204.46" r="0.76" fill="#262626" fill-opacity="0.5"/><circle cx="451.36" cy="206.06" r="1.01" fill="#262626" fill-opacity="0.5"/><circle cx="450.98" cy="203.43" r="0.89" fill="#262626" fill-opacity="0.5"/><circle cx="448.36" cy="205.57" r="1.27" fill="#262626" fill-opacity="0.5"/><circle cx="449.68" cy="200.40" r="1.03" fill="#262626" fill-opacity="0.5"/><circle cx="450.55" cy="202.46" r="1.23" fill="#262626" fill-opacity="0.5"/><circle cx="451.89" cy="200.82" r="0.88" fill="#262626" fill-opacity="0.5"/><circle cx="454.39" cy="205.35" r="0.64" fill="#262626" fill-opacity="0.5"/><circle cx="452.87" cy="203.90" r="0.71" fill="#262626" fill-opacity="0.5"/><circle cx="450.47" cy="203.89" r="0.60" fill="#262626" fill-opacity="0.5"/><circle cx="451.81" cy="204.14" r="0.85" fill="#262626" fill-opacity="0.5"/><circle cx="449.72" cy="202.27" r="0.78" fill="#262626" fill-opacity="0.5"/><circle cx="449.36" cy="205.15" r="0.69" fill="#262626" fill-opacity="0.5"/><circle cx="447.63" cy="203.81" r="0.66" fill="#262626" fill-opacity="0.5"/><circle cx="453.20" cy="204.57" r="0.79" fill="#262626" fill-opacity="0.5"/><circle cx="451.85" cy="201.89" r="0.62" fill="#262626" fill-opacity="0.5"/><circle cx="454.50" cy="202.27" r="0.70" fill="#262626" fill-opacity="0.5"/><circle cx="450.32" cy="203.04" r="0.97" fill="#262626" fill-opacity="0.5"/><circle cx="456.93" cy="202.53" r="1.09" fill="#262626" fill-opacity="0.5"/><circle cx="450.80" cy="205.58" r="0.72" fill="#262626" fill-opacity="0.5"/><circle cx="451.51" cy="200.15" r="1.15" fill="#262626" fill-opacity="0.5"/><circle cx="449.98" cy="204.76" r="1.17" fill="#262626" fill-opacity="0.5"/><circle cx="456.84" cy="202.74" r="1.16" fill="#262626" fill-opacity="0.5"/><circle cx="453.05" cy="199.47" r="0.76" fill="#262626" fill-opacity="0.5"/><circle cx="448.20" cy="202.94" r="0.62" fill="#262626" fill-opacity="0.5"/><circle cx="453.39" cy="203.55" r="0.78" fill="#262626" fill-opacity="0.5"/><circle cx="449.60" cy="204.53" r="0.76" fill="#262626" fill-opacity="0.5"/><circle cx="451.67" cy="204.80" r="1.04" fill="#262626" fill-opacity="0.5"/><circle cx="455.66" cy="200.39" r="0.94" fill="#262626" fill-opacity="0.5"/><circle cx="447.92" cy="199.52" r="0.66" fill="#262626" fill-opacity="0.5"/><circle cx="452.01" cy="199.12" r="0.93" fill="#262626" fill-opacity="0.5"/><circle cx="453.30" cy="207.17" r="0.83" fill="#262626" fill-opacity="0.5"/><circle cx="448.59" cy="204.74" r="1.26" fill="#262626" fill-opacity="0.5"/><circle cx="450.71" cy="201.69" r="0.69" fill="#262626" fill-opacity="0.5"/><circle cx="451.59" cy="201.88" r="1.18" fill="#262626" fill-opacity="0.5"/><circle cx="455.36" cy="202.75" r="0.85" fill="#262626" fill-opacity="0.5"/><circle cx="449.48" cy="202.80" r="0.61" fill="#262626" fill-opacity="0.5"/><circle cx="455.27" cy="202.54" r="0.97" fill="#262626" fill-opacity="0.5"/><circle cx="453.93" cy="202.12" r="1.21" fill="#262626" fill-opacity="0.5"/><circle cx="451.95" cy="201.67" r="0.78" fill="#262626" fill-opacity="0.5"/><circle cx="450.41" cy="204.99" r="1.01" fill="#262626" fill-opacity="0.5"/><circle cx="450.82" cy="205.80" r="0.69" fill="#262626" fill-opacity="0.5"/><circle cx="453.37" cy="201.95" r="0.92" fill="#262626" fill-opacity="0.5"/><circle cx="447.30" cy="203.17" r="0.97" fill="#262626" fill-opacity="0.5"/><circle cx="454.21" cy="203.52" r="0.73" fill="#262626" fill-opacity="0.5"/><circle cx="456.37" cy="203.31" r="0.72" fill="#262626" fill-opacity="0.5"/><circle cx="446.24" cy="203.87" r="0.99" fill="#262626" fill-opacity="0.5"/><circle cx="449.33" cy="205.88" r="0.99" fill="#262626" fill-opacity="0.5"/><circle cx="451.30" cy="202.04" r="0.99" fill="#262626" fill-opacity="0.5"/><circle cx="451.02" cy="205.21" r="1.14" fill="#262626" fill-opacity="0.5"/><circle cx="447.15" cy="203.04" r="1.13" fill="#262626" fill-opacity="0.5"/><circle cx="453.77" cy="201.79" r="1.03" fill="#262626" fill-opacity="0.5"/><circle cx="447.41" cy="203.10" r="1.08" fill="#262626" fill-opacity="0.5"/><circle cx="447.46" cy="204.11" r="0.93" fill="#262626" fill-opacity="0.5"/><circle cx="455.34" cy="201.81" r="1.21" fill="#262626" fill-opacity="0.5"/><circle cx="453.17" cy="202.51" r="0.99" fill="#262626" fill-opacity="0.5"/><circle cx="456.38" cy="201.53" r="0.70" fill="#262626" fill-opacity="0.5"/><circle cx="453.34" cy="205.07" r="0.65" fill="#262626" fill-opacity="0.5"/><circle cx="451.07" cy="204.17" r="1.07" fill="#262626" fill-opacity="0.5"/>
<ellipse cx="423.8" cy="227.2" rx="6.5" ry="5.5" fill="#9a9a9a" fill-opacity="0.6"/>
<circle cx="425.47" cy="231.07" r="0.96" fill="#2a2a2a" fill-opacity="0.45"/><circle cx="424.90" cy="227.44" r="1.17" fill="#2a2a2a" fill-opacity="0.45"/><circle cx="420.45" cy="229.52" r="1.19" fill="#2a2a2a" fill-opacity="0.45"/><circle cx="423.81" cy="226.51" r="0.80" fill="#2a2a2a" fill-opacity="0.45"/><circle cx="420.51" cy="227.58" r="0.64" fill="#2a2a2a" fill-opacity="0.45"/><circle cx="421.16" cy="231.44" r="0.51" fill="#2a2a2a" fill-opacity="0.45"/><circle cx="420.21" cy="226.90" r="0.51" fill="#2a2a2a" fill-opacity="0.45"/><circle cx="421.12" cy="230.85" r="0.86" fill="#2a2a2a" fill-opacity="0.45"/><circle cx="424.71" cy="229.00" r="0.53" fill="#2a2a2a" fill-opacity="0.45"/><circle cx="423.40" cy="225.85" r="0.59" fill="#2a2a2a" fill-opacity="0.45"/><circle cx="423.89" cy="226.04" r="0.60" fill="#2a2a2a" fill-opacity="0.45"/><circle cx="426.12" cy="226.22" r="0.99" fill="#2a2a2a" fill-opacity="0.45"/><circle cx="423.80" cy="228.26" r="0.98" fill="#2a2a2a" fill-opacity="0.45"/><circle cx="422.05" cy="228.24" r="1.16" fill="#2a2a2a" fill-opacity="0.45"/><circle cx="419.72" cy="224.44" r="0.56" fill="#2a2a2a" fill-opacity="0.45"/><circle cx="423.63" cy="227.07" r="1.10" fill="#2a2a2a" fill-opacity="0.45"/><circle cx="420.60" cy="228.45" r="0.89" fill="#2a2a2a" fill-opacity="0.45"/><circle cx="424.95" cy="226.92" r="0.59" fill="#2a2a2a" fill-opacity="0.45"/><circle cx="421.00" cy="227.49" r="0.58" fill="#2a2a2a" fill-opacity="0.45"/><circle cx="423.47" cy="228.48" r="0.64" fill="#2a2a2a" fill-opacity="0.45"/><circle cx="422.11" cy="229.77" r="1.03" fill="#2a2a2a" fill-opacity="0.45"/><circle cx="422.20" cy="230.65" r="0.62" fill="#2a2a2a" fill-opacity="0.45"/><circle cx="422.70" cy="228.19" r="0.68" fill="#2a2a2a" fill-opacity="0.45"/><circle cx="427.45" cy="228.19" r="0.89" fill="#2a2a2a" fill-opacity="0.45"/><circle cx="424.16" cy="230.43" r="1.15" fill="#2a2a2a" fill-opacity="0.45"/><circle cx="426.99" cy="230.66" r="0.80" fill="#2a2a2a" fill-opacity="0.45"/><circle cx="417.79" cy="227.95" r="0.78" fill="#2a2a2a" fill-opacity="0.45"/><circle cx="418.81" cy="227.64" r="1.19" fill="#2a2a2a" fill-opacity="0.45"/><circle cx="420.14" cy="231.75" r="0.99" fill="#2a2a2a" fill-opacity="0.45"/><circle cx="421.16" cy="225.88" r="0.74" fill="#2a2a2a" fill-opacity="0.45"/><circle cx="424.37" cy="228.24" r="0.55" fill="#2a2a2a" fill-opacity="0.45"/><circle cx="422.88" cy="225.88" r="0.61" fill="#2a2a2a" fill-opacity="0.45"/><circle cx="427.55" cy="230.23" r="1.11" fill="#2a2a2a" fill-opacity="0.45"/><circle cx="421.93" cy="226.01" r="0.67" fill="#2a2a2a" fill-opacity="0.45"/><circle cx="422.18" cy="230.47" r="0.61" fill="#2a2a2a" fill-opacity="0.45"/><circle cx="420.97" cy="228.45" r="1.17" fill="#2a2a2a" fill-opacity="0.45"/><circle cx="426.41" cy="227.26" r="0.67" fill="#2a2a2a" fill-opacity="0.45"/><circle cx="425.31" cy="227.34" r="0.75" fill="#2a2a2a" fill-opacity="0.45"/><circle cx="425.70" cy="227.82" r="0.83" fill="#2a2a2a" fill-opacity="0.45"/><circle cx="421.16" cy="227.77" r="0.85" fill="#2a2a2a" fill-opacity="0.45"/><circle cx="425.15" cy="227.86" r="0.56" fill="#2a2a2a" fill-opacity="0.45"/><circle cx="422.35" cy="228.23" r="0.52" fill="#2a2a2a" fill-opacity="0.45"/><circle cx="422.33" cy="229.52" r="0.91" fill="#2a2a2a" fill-opacity="0.45"/><circle cx="418.49" cy="227.04" r="0.96" fill="#2a2a2a" fill-opacity="0.45"/><circle cx="421.12" cy="229.22" r="1.19" fill="#2a2a2a" fill-opacity="0.45"/><circle cx="425.61" cy="231.04" r="0.95" fill="#2a2a2a" fill-opacity="0.45"/><circle cx="428.03" cy="229.09" r="1.12" fill="#2a2a2a" fill-opacity="0.45"/><circle cx="419.88" cy="224.88" r="1.07" fill="#2a2a2a" fill-opacity="0.45"/><circle cx="425.15" cy="230.14" r="0.85" fill="#2a2a2a" fill-opacity="0.45"/><circle cx="425.53" cy="223.91" r="1.08" fill="#2a2a2a" fill-opacity="0.45"/><circle cx="421.27" cy="224.29" r="0.66" fill="#2a2a2a" fill-opacity="0.45"/><circle cx="424.44" cy="228.06" r="0.75" fill="#2a2a2a" fill-opacity="0.45"/><circle cx="427.13" cy="230.71" r="0.89" fill="#2a2a2a" fill-opacity="0.45"/><circle cx="420.32" cy="225.28" r="0.98" fill="#2a2a2a" fill-opacity="0.45"/><circle cx="422.78" cy="227.81" r="1.06" fill="#2a2a2a" fill-opacity="0.45"/><circle cx="422.96" cy="224.84" r="0.87" fill="#2a2a2a" fill-opacity="0.45"/><circle cx="422.45" cy="227.02" r="1.02" fill="#2a2a2a" fill-opacity="0.45"/><circle cx="422.99" cy="228.78" r="0.69" fill="#2a2a2a" fill-opacity="0.45"/><circle cx="422.76" cy="226.12" r="1.02" fill="#2a2a2a" fill-opacity="0.45"/><circle cx="426.17" cy="227.36" r="0.77" fill="#2a2a2a" fill-opacity="0.45"/><circle cx="418.86" cy="228.30" r="1.04" fill="#2a2a2a" fill-opacity="0.45"/><circle cx="420.07" cy="225.39" r="0.55" fill="#2a2a2a" fill-opacity="0.45"/><circle cx="424.26" cy="229.33" r="1.02" fill="#2a2a2a" fill-opacity="0.45"/><circle cx="421.81" cy="230.85" r="0.51" fill="#2a2a2a" fill-opacity="0.45"/><circle cx="425.02" cy="228.54" r="0.97" fill="#2a2a2a" fill-opacity="0.45"/><circle cx="421.53" cy="224.29" r="0.70" fill="#2a2a2a" fill-opacity="0.45"/><circle cx="419.94" cy="227.51" r="0.83" fill="#2a2a2a" fill-opacity="0.45"/><circle cx="423.48" cy="227.62" r="0.82" fill="#2a2a2a" fill-opacity="0.45"/><circle cx="420.93" cy="228.42" r="0.65" fill="#2a2a2a" fill-opacity="0.45"/><circle cx="424.78" cy="227.22" r="0.91" fill="#2a2a2a" fill-opacity="0.45"/><circle cx="425.11" cy="230.17" r="1.17" fill="#2a2a2a" fill-opacity="0.45"/><circle cx="426.43" cy="231.23" r="0.86" fill="#2a2a2a" fill-opacity="0.45"/><circle cx="426.25" cy="225.26" r="0.66" fill="#2a2a2a" fill-opacity="0.45"/><circle cx="425.54" cy="226.07" r="0.52" fill="#2a2a2a" fill-opacity="0.45"/><circle cx="426.20" cy="227.87" r="0.82" fill="#2a2a2a" fill-opacity="0.45"/><circle cx="422.51" cy="229.10" r="0.74" fill="#2a2a2a" fill-opacity="0.45"/><circle cx="420.88" cy="232.18" r="0.50" fill="#2a2a2a" fill-opacity="0.45"/><circle cx="423.02" cy="223.02" r="0.58" fill="#2a2a2a" fill-opacity="0.45"/><circle cx="426.89" cy="226.04" r="1.13" fill="#2a2a2a" fill-opacity="0.45"/><circle cx="422.34" cy="230.14" r="0.78" fill="#2a2a2a" fill-opacity="0.45"/>
<circle cx="429.50" cy="225.49" r="0.58" fill="#333" fill-opacity="0.5"/><circle cx="426.42" cy="225.94" r="0.42" fill="#333" fill-opacity="0.5"/><circle cx="429.78" cy="226.91" r="0.54" fill="#333" fill-opacity="0.5"/><circle cx="428.54" cy="225.13" r="0.53" fill="#333" fill-opacity="0.5"/><circle cx="426.53" cy="225.44" r="0.59" fill="#333" fill-opacity="0.5"/><circle cx="428.30" cy="223.87" r="0.86" fill="#333" fill-opacity="0.5"/><circle cx="429.26" cy="224.93" r="0.76" fill="#333" fill-opacity="0.5"/><circle cx="429.82" cy="226.12" r="0.63" fill="#333" fill-opacity="0.5"/><circle cx="427.54" cy="223.70" r="0.54" fill="#333" fill-opacity="0.5"/><circle cx="428.68" cy="226.51" r="0.57" fill="#333" fill-opacity="0.5"/><circle cx="426.77" cy="227.46" r="0.89" fill="#333" fill-opacity="0.5"/><circle cx="427.36" cy="227.32" r="0.55" fill="#333" fill-opacity="0.5"/>
<ellipse cx="420.8" cy="216.6" rx="3.2" ry="2.8" fill="#9a9a9a" fill-opacity="0.6"/>
<circle cx="419.39" cy="216.14" r="0.58" fill="#555" fill-opacity="0.4"/><circle cx="421.34" cy="217.35" r="0.95" fill="#555" fill-opacity="0.4"/><circle cx="419.74" cy="216.62" r="0.95" fill="#555" fill-opacity="0.4"/><circle cx="422.44" cy="216.57" r="0.57" fill="#555" fill-opacity="0.4"/><circle cx="421.03" cy="217.13" r="0.67" fill="#555" fill-opacity="0.4"/><circle cx="421.73" cy="217.12" r="0.63" fill="#555" fill-opacity="0.4"/><circle cx="420.80" cy="215.26" r="0.71" fill="#555" fill-opacity="0.4"/><circle cx="419.36" cy="216.41" r="0.67" fill="#555" fill-opacity="0.4"/><circle cx="421.92" cy="217.00" r="0.98" fill="#555" fill-opacity="0.4"/><circle cx="422.05" cy="217.69" r="0.81" fill="#555" fill-opacity="0.4"/><circle cx="421.48" cy="215.91" r="0.64" fill="#555" fill-opacity="0.4"/><circle cx="420.81" cy="217.91" r="0.72" fill="#555" fill-opacity="0.4"/><circle cx="423.59" cy="215.88" r="0.94" fill="#555" fill-opacity="0.4"/><circle cx="421.18" cy="216.65" r="0.85" fill="#555" fill-opacity="0.4"/><circle cx="422.15" cy="215.70" r="0.79" fill="#555" fill-opacity="0.4"/><circle cx="422.30" cy="216.60" r="0.96" fill="#555" fill-opacity="0.4"/><circle cx="422.15" cy="214.33" r="0.99" fill="#555" fill-opacity="0.4"/><circle cx="420.81" cy="217.22" r="0.58" fill="#555" fill-opacity="0.4"/>
<circle cx="428.10" cy="226.75" r="0.87" fill="#555" fill-opacity="0.4"/><circle cx="430.09" cy="225.29" r="0.78" fill="#555" fill-opacity="0.4"/><circle cx="428.55" cy="227.40" r="0.42" fill="#555" fill-opacity="0.4"/><circle cx="430.73" cy="226.14" r="0.86" fill="#555" fill-opacity="0.4"/><circle cx="429.67" cy="226.19" r="0.46" fill="#555" fill-opacity="0.4"/><circle cx="430.47" cy="228.71" r="0.75" fill="#555" fill-opacity="0.4"/><circle cx="430.97" cy="227.30" r="0.66" fill="#555" fill-opacity="0.4"/><circle cx="429.12" cy="226.41" r="0.51" fill="#555" fill-opacity="0.4"/><circle cx="430.31" cy="226.90" r="0.55" fill="#555" fill-opacity="0.4"/><circle cx="429.34" cy="227.14" r="0.52" fill="#555" fill-opacity="0.4"/><circle cx="432.92" cy="226.54" r="0.55" fill="#555" fill-opacity="0.4"/><circle cx="432.36" cy="227.19" r="0.74" fill="#555" fill-opacity="0.4"/><circle cx="429.42" cy="227.45" r="0.73" fill="#555" fill-opacity="0.4"/><circle cx="431.52" cy="226.61" r="0.42" fill="#555" fill-opacity="0.4"/>
<circle cx="424.29" cy="233.98" r="0.74" fill="#555" fill-opacity="0.4"/><circle cx="425.74" cy="234.86" r="0.77" fill="#555" fill-opacity="0.4"/><circle cx="424.12" cy="232.98" r="0.88" fill="#555" fill-opacity="0.4"/><circle cx="424.09" cy="234.89" r="0.52" fill="#555" fill-opacity="0.4"/><circle cx="425.39" cy="234.83" r="0.55" fill="#555" fill-opacity="0.4"/><circle cx="426.45" cy="232.62" r="0.49" fill="#555" fill-opacity="0.4"/><circle cx="425.23" cy="234.13" r="0.73" fill="#555" fill-opacity="0.4"/><circle cx="425.69" cy="232.80" r="0.60" fill="#555" fill-opacity="0.4"/><circle cx="425.27" cy="233.28" r="0.43" fill="#555" fill-opacity="0.4"/><circle cx="426.57" cy="231.81" r="0.90" fill="#555" fill-opacity="0.4"/><circle cx="426.06" cy="232.59" r="0.49" fill="#555" fill-opacity="0.4"/><circle cx="426.98" cy="232.29" r="0.42" fill="#555" fill-opacity="0.4"/>
<circle cx="417.90" cy="222.08" r="0.59" fill="#666" fill-opacity="0.35"/><circle cx="418.14" cy="223.58" r="0.40" fill="#666" fill-opacity="0.35"/><circle cx="418.29" cy="224.01" r="0.88" fill="#666" fill-opacity="0.35"/><circle cx="418.80" cy="224.00" r="0.81" fill="#666" fill-opacity="0.35"/><circle cx="419.06" cy="221.95" r="0.42" fill="#666" fill-opacity="0.35"/><circle cx="417.36" cy="223.18" r="0.86" fill="#666" fill-opacity="0.35"/><circle cx="418.90" cy="223.98" r="0.85" fill="#666" fill-opacity="0.35"/><circle cx="419.71" cy="223.21" r="0.81" fill="#666" fill-opacity="0.35"/><circle cx="418.54" cy="222.68" r="0.42" fill="#666" fill-opacity="0.35"/><circle cx="418.41" cy="224.82" r="0.85" fill="#666" fill-opacity="0.35"/>
<ellipse cx="398.3" cy="243.2" rx="4.3" ry="3.8" fill="#8a8a8a" fill-opacity="0.7"/>
<circle cx="397.50" cy="244.55" r="0.98" fill="#2e2e2e" fill-opacity="0.42"/><circle cx="397.20" cy="242.51" r="0.86" fill="#2e2e2e" fill-opacity="0.42"/><circle cx="397.68" cy="244.65" r="0.50" fill="#2e2e2e" fill-opacity="0.42"/><circle cx="399.67" cy="243.59" r="0.74" fill="#2e2e2e" fill-opacity="0.42"/><circle cx="397.21" cy="244.25" r="0.71" fill="#2e2e2e" fill-opacity="0.42"/><circle cx="399.70" cy="246.19" r="0.87" fill="#2e2e2e" fill-opacity="0.42"/><circle cx="399.74" cy="240.77" r="0.80" fill="#2e2e2e" fill-opacity="0.42"/><circle cx="397.52" cy="244.72" r="0.68" fill="#2e2e2e" fill-opacity="0.42"/><circle cx="398.46" cy="242.72" r="0.60" fill="#2e2e2e" fill-opacity="0.42"/><circle cx="398.33" cy="242.12" r="0.53" fill="#2e2e2e" fill-opacity="0.42"/><circle cx="400.66" cy="243.86" r="0.66" fill="#2e2e2e" fill-opacity="0.42"/><circle cx="399.79" cy="243.30" r="0.54" fill="#2e2e2e" fill-opacity="0.42"/><circle cx="400.13" cy="244.54" r="0.85" fill="#2e2e2e" fill-opacity="0.42"/><circle cx="396.99" cy="243.81" r="0.71" fill="#2e2e2e" fill-opacity="0.42"/><circle cx="396.23" cy="241.65" r="0.87" fill="#2e2e2e" fill-opacity="0.42"/><circle cx="399.91" cy="241.34" r="0.56" fill="#2e2e2e" fill-opacity="0.42"/><circle cx="399.16" cy="242.21" r="0.78" fill="#2e2e2e" fill-opacity="0.42"/><circle cx="396.13" cy="245.39" r="0.60" fill="#2e2e2e" fill-opacity="0.42"/><circle cx="398.32" cy="244.68" r="0.58" fill="#2e2e2e" fill-opacity="0.42"/><circle cx="400.16" cy="241.91" r="0.66" fill="#2e2e2e" fill-opacity="0.42"/><circle cx="396.92" cy="243.34" r="0.90" fill="#2e2e2e" fill-opacity="0.42"/><circle cx="400.03" cy="244.56" r="0.91" fill="#2e2e2e" fill-opacity="0.42"/><circle cx="399.83" cy="243.76" r="0.56" fill="#2e2e2e" fill-opacity="0.42"/><circle cx="396.90" cy="243.81" r="0.89" fill="#2e2e2e" fill-opacity="0.42"/><circle cx="399.15" cy="243.13" r="0.80" fill="#2e2e2e" fill-opacity="0.42"/><circle cx="397.33" cy="242.58" r="0.68" fill="#2e2e2e" fill-opacity="0.42"/><circle cx="399.11" cy="244.29" r="0.63" fill="#2e2e2e" fill-opacity="0.42"/><circle cx="396.06" cy="241.96" r="0.60" fill="#2e2e2e" fill-opacity="0.42"/><circle cx="399.99" cy="243.51" r="0.84" fill="#2e2e2e" fill-opacity="0.42"/><circle cx="398.95" cy="244.75" r="0.60" fill="#2e2e2e" fill-opacity="0.42"/><circle cx="398.97" cy="241.34" r="0.53" fill="#2e2e2e" fill-opacity="0.42"/><circle cx="399.83" cy="244.41" r="0.78" fill="#2e2e2e" fill-opacity="0.42"/><circle cx="397.77" cy="242.83" r="0.58" fill="#2e2e2e" fill-opacity="0.42"/><circle cx="397.64" cy="241.76" r="0.64" fill="#2e2e2e" fill-opacity="0.42"/><circle cx="397.36" cy="245.43" r="0.68" fill="#2e2e2e" fill-opacity="0.42"/><circle cx="395.01" cy="245.10" r="1.00" fill="#2e2e2e" fill-opacity="0.42"/><circle cx="397.47" cy="244.25" r="0.86" fill="#2e2e2e" fill-opacity="0.42"/><circle cx="398.36" cy="243.58" r="0.95" fill="#2e2e2e" fill-opacity="0.42"/><circle cx="395.18" cy="244.85" r="0.70" fill="#2e2e2e" fill-opacity="0.42"/><circle cx="399.87" cy="242.13" r="0.58" fill="#2e2e2e" fill-opacity="0.42"/>
</g>
<g filter="url(#bl2)">
<ellipse cx="398.6" cy="281.0" rx="1.5" ry="2.0" fill="#2a2a2a"/>
<ellipse cx="401.2" cy="279.2" rx="0.9" ry="0.9" fill="#555"/>
<ellipse cx="403.4" cy="278.6" rx="1.3" ry="1.4" fill="#333"/>
<ellipse cx="405.6" cy="277.4" rx="0.7" ry="0.7" fill="#666"/>
<path d="M443.2,290.2 L446.5,288.6 L448.6,289.4 L449.2,286.4 L450.6,288.6 L453.8,289.6 L451.4,291.6 L451.2,295.8 L449.0,293.6 L446.6,295.0 L445.8,293.0 L443.4,292.6 Z" fill="#2e2e2e"/>
<ellipse cx="448.6" cy="291.4" rx="1.0" ry="0.9" fill="#777"/>
<ellipse cx="446.2" cy="264.4" rx="0.9" ry="0.7" fill="#555"/>
</g>
<text x="484.40" y="221.60" font-size="8.4" font-weight="bold" text-anchor="middle" fill="#000" textLength="56.7" lengthAdjust="spacingAndGlyphs" transform="rotate(-90 484.40 221.60)" >Control shRNA</text>
<text x="484.60" y="289.70" font-size="8.4" font-weight="bold" text-anchor="middle" fill="#000" textLength="61.5" lengthAdjust="spacingAndGlyphs" transform="rotate(-90 484.60 289.70)" >CXCR2 shRNA#2</text>
</svg>
</body></html>
